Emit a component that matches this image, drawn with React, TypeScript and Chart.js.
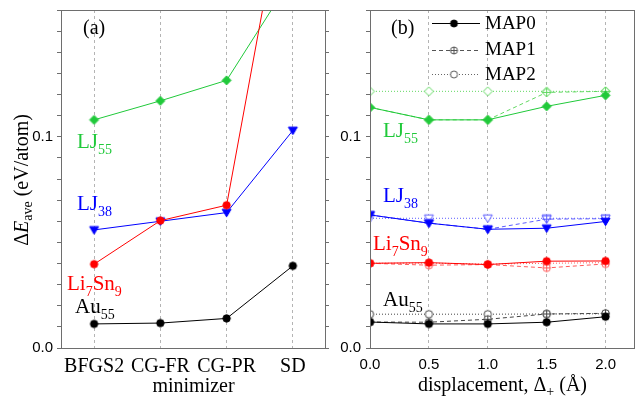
import React, { useEffect, useRef } from 'react';
import { Chart, registerables } from 'chart.js';
Chart.register(...registerables);

// ---------- data ----------
const minimizers = ['BFGS2', 'CG-FR', 'CG-PR', 'SD'];
const au55Min = [0.0114, 0.0118, 0.0140, 0.0389];
const li7sn9Min = [0.0397, 0.0603, 0.0676, 0.238];
const lj38Min = [0.0559, 0.0600, 0.0641, 0.1030];
const lj55Min = [0.1080, 0.1170, 0.1267, 0.176];

const displacements = [0, 0.5, 1.0, 1.5, 2.0];
const au55Map0 = [0.0123, 0.0114, 0.0114, 0.0122, 0.0148];
const au55Map1 = [0.0123, 0.0122, 0.0136, 0.0161, 0.0164];
const au55Map2 = [0.0160, 0.0160, 0.0160, 0.0161, 0.0162];
const li7sn9Map0 = [0.0401, 0.0404, 0.0395, 0.0411, 0.0412];
const li7sn9Map1 = [0.0401, 0.0392, 0.0395, 0.0379, 0.0398];
const li7sn9Map2 = [0.0401, 0.0402, 0.0397, 0.0401, 0.0404];
const lj38Map0 = [0.0630, 0.0591, 0.0562, 0.0567, 0.0599];
const lj38Map1 = [0.0630, 0.0591, 0.0562, 0.0610, 0.0612];
const lj38Map2 = [0.0614, 0.0614, 0.0614, 0.0614, 0.0614];
const lj55Map0 = [0.1139, 0.1080, 0.1080, 0.1144, 0.1196];
const lj55Map1 = [0.1139, 0.1080, 0.1080, 0.1210, 0.1215];
const lj55Map2 = [0.1215, 0.1215, 0.1215, 0.1215, 0.1215];

const xTicksB = [0, 0.5, 1.0, 1.5, 2.0];
const yLabeledTicks = [0, 0.1];
const yTickText = ['0.0', '0.1'];
const legendNames = ['MAP0', 'MAP1', 'MAP2'];

// ---------- styles ----------
const SERIF = '"Liberation Serif", "Times New Roman", serif';
const SANS = '"Liberation Sans", Arial, sans-serif';
const FRAME = '#6e6e6e';
const GRID = '#b4b4b4';
const GREEN = '#20c93a';
const GREEN_L = '#62d862';
const BLUE = '#0000ff';
const BLUE_L = '#5c5cff';
const RED = '#ff0000';
const RED_L = '#ff5c5c';
const BLACK = '#000000';
const BLACK_L = '#444444';

type Shape = 'circle' | 'diamond' | 'tri';

function makeMarker(shape: Shape, stroke: string, fill: string | null, cross: boolean, r: number) {
  const s = Math.ceil(2 * r + 3) | 1;
  const c = document.createElement('canvas');
  c.width = s;
  c.height = s;
  const g = c.getContext('2d')!;
  const m = s / 2;
  g.beginPath();
  if (shape === 'circle') g.arc(m, m, r, 0, Math.PI * 2);
  else if (shape === 'diamond') {
    g.moveTo(m, m - r); g.lineTo(m + r, m); g.lineTo(m, m + r); g.lineTo(m - r, m); g.closePath();
  } else {
    g.moveTo(m - r, m - r * 0.75); g.lineTo(m + r, m - r * 0.75); g.lineTo(m, m + r * 0.95); g.closePath();
  }
  if (fill) { g.fillStyle = fill; g.fill(); }
  g.strokeStyle = stroke; g.lineWidth = 1; g.stroke();
  if (cross) {
    g.beginPath();
    g.moveTo(m - r, m); g.lineTo(m + r, m);
    g.moveTo(m, m - r); g.lineTo(m, m + r);
    g.stroke();
  }
  return c;
}

type Seg = { t: string; sub?: boolean; it?: boolean };
function drawRich(ctx: CanvasRenderingContext2D, x: number, y: number, segs: Seg[], color: string, size = 21, subSize = 14, subOff = 6) {
  ctx.save();
  ctx.fillStyle = color;
  ctx.textBaseline = 'alphabetic';
  ctx.textAlign = 'left';
  let cx = x;
  for (const s of segs) {
    ctx.font = `${s.it ? 'italic ' : ''}${s.sub ? subSize : size}px ${SERIF}`;
    ctx.fillText(s.t, cx, s.sub ? y + subOff : y);
    cx += ctx.measureText(s.t).width;
  }
  ctx.restore();
}
function richWidth(ctx: CanvasRenderingContext2D, segs: Seg[], size: number, subSize: number) {
  let w = 0;
  for (const s of segs) {
    ctx.font = `${s.it ? 'italic ' : ''}${s.sub ? subSize : size}px ${SERIF}`;
    w += ctx.measureText(s.t).width;
  }
  return w;
}

const LJ55: Seg[] = [{ t: 'LJ' }, { t: '55', sub: true }];
const LJ38: Seg[] = [{ t: 'LJ' }, { t: '38', sub: true }];
const LISN: Seg[] = [{ t: 'Li' }, { t: '7', sub: true }, { t: 'Sn' }, { t: '9', sub: true }];
const AU55: Seg[] = [{ t: 'Au' }, { t: '55', sub: true }];

const framePlugin = {
  id: 'frame',
  afterDraw(chart: any) {
    const { ctx, chartArea: a } = chart;
    ctx.save();
    ctx.strokeStyle = FRAME;
    ctx.lineWidth = 1;
    ctx.strokeRect(Math.round(a.left) + 0.5, Math.round(a.top) + 0.5, Math.round(a.right - a.left) - 1, Math.round(a.bottom - a.top));
    ctx.restore();
  },
};

function yTickCb(v: number) {
  for (let i = 0; i < yLabeledTicks.length; i++) {
    if (Math.abs(v - yLabeledTicks[i]) < 1e-6) return yTickText[i];
  }
  return '';
}

function yScale(width: number, pad: number) {
  return {
    min: 0,
    max: 0.16,
    ticks: { stepSize: 0.01, autoSkip: false, callback: yTickCb, font: { family: SANS, size: 15 }, color: '#000', padding: pad },
    grid: { drawOnChartArea: false, tickLength: 4, color: FRAME },
    border: { display: false },
    afterFit: (s: any) => { s.width = width; s.paddingTop = 0; s.paddingBottom = 0; },
  };
}

export default function App() {
  const refA = useRef<HTMLCanvasElement>(null);
  const refB = useRef<HTMLCanvasElement>(null);

  useEffect(() => {
    const mk = (shape: Shape, col: string) => makeMarker(shape, col, col, false, shape === 'circle' ? 3.7 : 4.5);

    // ---------- panel (a) ----------
    const dsA = (data: number[], col: string, shape: Shape) => ({
      data,
      borderColor: col,
      borderWidth: 1,
      pointStyle: mk(shape, col),
      pointRadius: 4,
      clip: 0,
      tension: 0,
    });

    const labelsA = {
      id: 'labelsA',
      afterDraw(chart: any) {
        const ctx = chart.ctx as CanvasRenderingContext2D;
        const a = chart.chartArea;
        drawRich(ctx, a.left + 16, 148, LJ55, GREEN);
        drawRich(ctx, a.left + 16, 210, LJ38, BLUE);
        drawRich(ctx, a.left + 6, 290, LISN, RED);
        drawRich(ctx, a.left + 14, 313, AU55, BLACK);
        ctx.save();
        ctx.font = `20px ${SERIF}`;
        ctx.fillStyle = '#000';
        ctx.textAlign = 'left';
        ctx.textBaseline = 'alphabetic';
        ctx.fillText('(a)', a.left + 22, 34);
        ctx.textAlign = 'center';
        ctx.fillText('minimizer', (a.left + a.right) / 2, 392);
        ctx.restore();
        const segs: Seg[] = [{ t: 'Δ' }, { t: 'E', it: true }, { t: 'ave', sub: true }, { t: ' (eV/atom)' }];
        const w = richWidth(ctx, segs, 20, 14);
        ctx.save();
        ctx.translate(28, 180);
        ctx.rotate(-Math.PI / 2);
        drawRich(ctx, -w / 2, 0, segs, '#000', 20, 14, 4);
        ctx.restore();
      },
    };

    const chartA = new Chart(refA.current!, {
      type: 'line',
      data: {
        labels: minimizers,
        datasets: [
          dsA(au55Min, BLACK, 'circle'),
          dsA(li7sn9Min, RED, 'circle'),
          dsA(lj38Min, BLUE, 'tri'),
          dsA(lj55Min, GREEN, 'diamond'),
        ] as any,
      },
      options: {
        animation: false,
        responsive: false,
        maintainAspectRatio: false,
        layout: { autoPadding: false, padding: { top: 10, left: 0, right: 0, bottom: 0 } },
        plugins: { legend: { display: false }, tooltip: { enabled: false } },
        scales: {
          x: {
            type: 'category',
            offset: true,
            grid: { offset: false, color: GRID, drawTicks: false, lineWidth: 1 },
            border: { display: false, dash: [3, 3] },
            ticks: { font: { family: SERIF, size: 20 }, color: '#000', padding: 7, maxRotation: 0, autoSkip: false },
            afterFit: (s: any) => { s.height = 50; s.paddingLeft = 0; s.paddingRight = 0; },
          },
          y: yScale(61, 4),
          y2: {
            position: 'right',
            min: 0,
            max: 0.16,
            ticks: { stepSize: 0.01, autoSkip: false, callback: () => '', padding: 0 },
            grid: { drawOnChartArea: false, tickLength: 3, color: FRAME },
            border: { display: false },
            afterFit: (s: any) => { s.width = 4; s.paddingTop = 0; s.paddingBottom = 0; },
          },
        },
      } as any,
      plugins: [framePlugin, labelsA],
    });

    // ---------- panel (b) ----------
    const pts = (ys: number[]) => ys.map((y, i) => ({ x: displacements[i], y }));
    const systems = [
      { col: BLACK, light: BLACK_L, shape: 'circle' as Shape, m: [au55Map0, au55Map1, au55Map2] },
      { col: RED, light: RED_L, shape: 'circle' as Shape, m: [li7sn9Map0, li7sn9Map1, li7sn9Map2] },
      { col: BLUE, light: BLUE_L, shape: 'tri' as Shape, m: [lj38Map0, lj38Map1, lj38Map2] },
      { col: GREEN, light: GREEN_L, shape: 'diamond' as Shape, m: [lj55Map0, lj55Map1, lj55Map2] },
    ];
    const dsB: any[] = [];
    const dashes = [[], [4, 3], [1, 2]];
    for (let k = 0; k < 3; k++) {
      for (const s of systems) {
        const r = s.shape === 'circle' ? 3.7 : 4.5;
        const col = k === 0 ? s.col : s.light;
        dsB.push({
          data: pts(s.m[k]),
          borderColor: col,
          borderWidth: 1,
          borderDash: dashes[k],
          pointStyle: makeMarker(s.shape, col, k === 0 ? col : '#ffffff', k === 1, r),
          pointRadius: 4,
          clip: 0,
          tension: 0,
        });
      }
    }

    const legMarkers = [
      makeMarker('circle', '#000', '#000', false, 3.5),
      makeMarker('circle', '#555', '#fff', true, 3.5),
      makeMarker('circle', '#555', '#fff', false, 3.5),
    ];
    const legCols = ['#000', '#555', '#666'];

    const labelsB = {
      id: 'labelsB',
      afterDraw(chart: any) {
        const ctx = chart.ctx as CanvasRenderingContext2D;
        const a = chart.chartArea;
        drawRich(ctx, a.left + 13, 137, LJ55, GREEN);
        drawRich(ctx, a.left + 13, 202, LJ38, BLUE);
        drawRich(ctx, a.left + 3, 250, LISN, RED);
        drawRich(ctx, a.left + 13, 306, AU55, BLACK);
        ctx.save();
        ctx.font = `20px ${SERIF}`;
        ctx.fillStyle = '#000';
        ctx.textAlign = 'left';
        ctx.textBaseline = 'alphabetic';
        ctx.fillText('(b)', a.left + 21, 34);
        ctx.restore();
        const segs: Seg[] = [{ t: 'displacement, ' }, { t: 'Δ' }, { t: '+', sub: true }, { t: ' (Å)' }];
        const w = richWidth(ctx, segs, 20, 14);
        drawRich(ctx, (a.left + a.right) / 2 - w / 2, 391, segs, '#000', 20, 14, 5);
        const ys = [23, 49.5, 74];
        for (let i = 0; i < 3; i++) {
          const y = Math.round(ys[i]) + 0.5;
          ctx.save();
          ctx.strokeStyle = legCols[i];
          ctx.lineWidth = 1;
          ctx.setLineDash(dashes[i]);
          ctx.beginPath();
          ctx.moveTo(a.left + 62, y);
          ctx.lineTo(a.left + 110, y);
          ctx.stroke();
          ctx.restore();
          const mkr = legMarkers[i];
          ctx.drawImage(mkr, a.left + 84 - mkr.width / 2, y - mkr.height / 2);
          ctx.save();
          ctx.font = `19px ${SERIF}`;
          ctx.fillStyle = '#000';
          ctx.textBaseline = 'middle';
          ctx.textAlign = 'left';
          ctx.fillText(legendNames[i], a.left + 115, ys[i] + 1);
          ctx.restore();
        }
      },
    };

    const chartB = new Chart(refB.current!, {
      type: 'line',
      data: { datasets: dsB },
      options: {
        animation: false,
        responsive: false,
        maintainAspectRatio: false,
        layout: { autoPadding: false, padding: { top: 10, left: 0, right: 1, bottom: 0 } },
        plugins: { legend: { display: false }, tooltip: { enabled: false } },
        scales: {
          x: {
            type: 'linear',
            min: 0,
            max: 2.25,
            grid: { color: GRID, drawTicks: false, lineWidth: 1 },
            border: { display: false, dash: [3, 3] },
            afterBuildTicks: (s: any) => { s.ticks = xTicksB.map((v) => ({ value: v })); },
            ticks: {
              font: { family: SANS, size: 15 },
              color: '#000',
              padding: 8,
              maxRotation: 0,
              autoSkip: false,
              callback: (v: number) => Number(v).toFixed(1),
            },
            afterFit: (s: any) => { s.height = 50; s.paddingLeft = 0; s.paddingRight = 0; },
          },
          y: yScale(40, 5),
        },
      } as any,
      plugins: [framePlugin, labelsB],
    });

    return () => {
      chartA.destroy();
      chartB.destroy();
    };
  }, []);

  return (
    <div style={{ position: 'fixed', left: 0, top: 0, width: 636, height: 398, background: '#fff' }}>
      <canvas ref={refA} width={330} height={398} style={{ position: 'absolute', left: 0, top: 0, width: 330, height: 398 }} />
      <canvas ref={refB} width={306} height={398} style={{ position: 'absolute', left: 330, top: 0, width: 306, height: 398 }} />
    </div>
  );
}
